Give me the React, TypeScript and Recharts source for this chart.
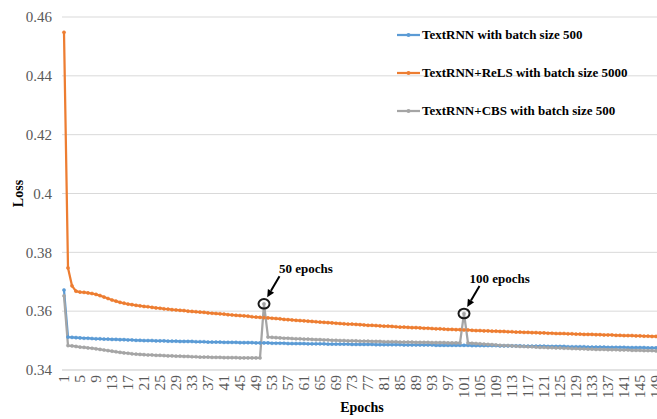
import React from 'react';
import { LineChart, Line, XAxis, YAxis, CartesianGrid, Legend, ReferenceDot, Label } from 'recharts';

const FONT = "'Liberation Serif', 'Times New Roman', serif";

const epochs: number[] = Array.from({ length: 150 }, (_, i) => i + 1);

const textRnn500 = [
  0.3672, 0.3512, 0.3511, 0.3510, 0.3509, 0.3508, 0.3508, 0.3507, 0.3506, 0.3506,
  0.3505, 0.3505, 0.3504, 0.3504, 0.3503, 0.3503, 0.3502, 0.3502, 0.3501, 0.3501,
  0.3500, 0.3500, 0.3500, 0.3499, 0.3499, 0.3499, 0.3498, 0.3498, 0.3498, 0.3497,
  0.3497, 0.3497, 0.3497, 0.3496, 0.3496, 0.3496, 0.3495, 0.3495, 0.3495, 0.3495,
  0.3494, 0.3494, 0.3494, 0.3494, 0.3493, 0.3493, 0.3493, 0.3493, 0.3492, 0.3492,
  0.3492, 0.3492, 0.3491, 0.3491, 0.3491, 0.3491, 0.3490, 0.3490, 0.3490, 0.3490,
  0.3490, 0.3489, 0.3489, 0.3489, 0.3489, 0.3489, 0.3488, 0.3488, 0.3488, 0.3488,
  0.3488, 0.3488, 0.3487, 0.3487, 0.3487, 0.3487, 0.3487, 0.3487, 0.3486, 0.3486,
  0.3486, 0.3486, 0.3486, 0.3486, 0.3486, 0.3485, 0.3485, 0.3485, 0.3485, 0.3485,
  0.3485, 0.3485, 0.3485, 0.3484, 0.3484, 0.3484, 0.3484, 0.3484, 0.3484, 0.3484,
  0.3484, 0.3484, 0.3483, 0.3483, 0.3483, 0.3483, 0.3483, 0.3483, 0.3483, 0.3482,
  0.3482, 0.3482, 0.3482, 0.3482, 0.3482, 0.3481, 0.3481, 0.3481, 0.3481, 0.3481,
  0.3481, 0.3480, 0.3480, 0.3480, 0.3480, 0.3480, 0.3479, 0.3479, 0.3479, 0.3479,
  0.3479, 0.3478, 0.3478, 0.3478, 0.3478, 0.3478, 0.3477, 0.3477, 0.3477, 0.3477,
  0.3477, 0.3476, 0.3476, 0.3476, 0.3476, 0.3476, 0.3475, 0.3475, 0.3475, 0.3475,
];

const relS5000 = [
  0.4548, 0.3747, 0.3686, 0.3668, 0.3665, 0.3664, 0.3662, 0.3660, 0.3657, 0.3653,
  0.3648, 0.3643, 0.3638, 0.3634, 0.3630, 0.3627, 0.3624, 0.3622, 0.3620, 0.3618,
  0.3616, 0.3615, 0.3613, 0.3611, 0.3610, 0.3608, 0.3607, 0.3605, 0.3604, 0.3603,
  0.3602, 0.3600, 0.3599, 0.3598, 0.3597, 0.3596, 0.3594, 0.3593, 0.3592, 0.3591,
  0.3590, 0.3588, 0.3587, 0.3586, 0.3585, 0.3584, 0.3583, 0.3581, 0.3580, 0.3579,
  0.3578, 0.3577, 0.3576, 0.3575, 0.3574, 0.3572, 0.3571, 0.3570, 0.3569, 0.3568,
  0.3567, 0.3566, 0.3565, 0.3564, 0.3563, 0.3562, 0.3561, 0.3560, 0.3559, 0.3558,
  0.3557, 0.3556, 0.3556, 0.3555, 0.3554, 0.3553, 0.3552, 0.3552, 0.3551, 0.3550,
  0.3549, 0.3549, 0.3548, 0.3547, 0.3546, 0.3546, 0.3545, 0.3544, 0.3544, 0.3543,
  0.3542, 0.3542, 0.3541, 0.3540, 0.3540, 0.3539, 0.3538, 0.3538, 0.3537, 0.3537,
  0.3536, 0.3536, 0.3535, 0.3534, 0.3534, 0.3533, 0.3533, 0.3532, 0.3532, 0.3531,
  0.3531, 0.3530, 0.3530, 0.3529, 0.3529, 0.3528, 0.3528, 0.3527, 0.3527, 0.3526,
  0.3526, 0.3525, 0.3525, 0.3524, 0.3524, 0.3524, 0.3523, 0.3523, 0.3522, 0.3522,
  0.3521, 0.3521, 0.3521, 0.3520, 0.3520, 0.3519, 0.3519, 0.3519, 0.3518, 0.3518,
  0.3517, 0.3517, 0.3517, 0.3516, 0.3516, 0.3515, 0.3515, 0.3514, 0.3514, 0.3513,
];

const cbs500 = [
  0.3652, 0.3483, 0.3482, 0.3480, 0.3478, 0.3477, 0.3475, 0.3474, 0.3472, 0.3470,
  0.3468, 0.3466, 0.3464, 0.3462, 0.3460, 0.3458, 0.3457, 0.3455, 0.3454, 0.3453,
  0.3452, 0.3451, 0.3451, 0.3450, 0.3450, 0.3449, 0.3448, 0.3448, 0.3447, 0.3447,
  0.3446, 0.3446, 0.3445, 0.3445, 0.3444, 0.3444, 0.3444, 0.3443, 0.3443, 0.3443,
  0.3442, 0.3442, 0.3442, 0.3442, 0.3441, 0.3441, 0.3441, 0.3441, 0.3441, 0.3441,
  0.3625, 0.3512, 0.3511, 0.3510, 0.3509, 0.3508, 0.3508, 0.3507, 0.3506, 0.3506,
  0.3505, 0.3505, 0.3504, 0.3503, 0.3503, 0.3502, 0.3502, 0.3501, 0.3501, 0.3500,
  0.3500, 0.3499, 0.3499, 0.3499, 0.3498, 0.3498, 0.3498, 0.3497, 0.3497, 0.3497,
  0.3496, 0.3496, 0.3496, 0.3496, 0.3495, 0.3495, 0.3495, 0.3495, 0.3494, 0.3494,
  0.3494, 0.3494, 0.3493, 0.3493, 0.3493, 0.3493, 0.3492, 0.3492, 0.3492, 0.3492,
  0.3592, 0.3492, 0.3491, 0.3490, 0.3489, 0.3488, 0.3487, 0.3486, 0.3485, 0.3484,
  0.3483, 0.3483, 0.3482, 0.3481, 0.3480, 0.3480, 0.3479, 0.3479, 0.3478, 0.3477,
  0.3477, 0.3476, 0.3476, 0.3475, 0.3475, 0.3474, 0.3474, 0.3473, 0.3473, 0.3472,
  0.3472, 0.3471, 0.3471, 0.3470, 0.3470, 0.3470, 0.3469, 0.3469, 0.3469, 0.3468,
  0.3468, 0.3468, 0.3467, 0.3467, 0.3467, 0.3466, 0.3466, 0.3466, 0.3465, 0.3465,
];

const yTicks = [0.34, 0.36, 0.38, 0.4, 0.42, 0.44, 0.46];

const seriesKeys = ['textRnn500', 'relS5000', 'cbs500'];
const seriesNames = [
  'TextRNN with batch size 500',
  'TextRNN+ReLS with batch size 5000',
  'TextRNN+CBS with batch size 500',
];
const seriesColors = ['#5B9BD5', '#ED7D31', '#A5A5A5'];

const annotationEpochs = [51, 101];
const annotationValues = [0.3625, 0.3592];
const annotationTexts = ['50 epochs', '100 epochs'];
const annotationTextDx = [15, 5.5];

const data = epochs.map((e, i) => ({
  epoch: e,
  textRnn500: textRnn500[i],
  relS5000: relS5000[i],
  cbs500: cbs500[i],
}));

const XTick = (props: any) => {
  const { x, y, payload } = props;
  return (
    <text
      transform={`translate(${x},${y}) rotate(-90)`}
      textAnchor="end"
      dy="0.35em"
      fill="#595959"
      fontSize={15.5}
      fontFamily={FONT}
    >
      {payload.value}
    </text>
  );
};

const makeAnnotation = (text: string, tdx: number) => (props: any) => {
  const { cx, cy } = props;
  if (cx == null || cy == null) return <g />;
  const ax1 = cx + 15.5;
  const ay1 = cy - 27.5;
  const ax2 = cx + 3.2;
  const ay2 = cy - 6.5;
  const ang = Math.atan2(ay2 - ay1, ax2 - ax1);
  const L = 7.5;
  const W = 3.6;
  const bx = ax2 - L * Math.cos(ang);
  const by = ay2 - L * Math.sin(ang);
  const p1x = bx + W * Math.sin(ang);
  const p1y = by - W * Math.cos(ang);
  const p2x = bx - W * Math.sin(ang);
  const p2y = by + W * Math.cos(ang);
  return (
    <g>
      <ellipse cx={cx} cy={cy} rx={5.5} ry={4.8} fill="none" stroke="#1a1a1a" strokeWidth={2} />
      <line x1={ax1} y1={ay1} x2={bx} y2={by} stroke="#000" strokeWidth={2} />
      <polygon points={`${ax2},${ay2} ${p1x},${p1y} ${p2x},${p2y}`} fill="#000" />
      <text x={cx + tdx} y={cy - 31} fontFamily={FONT} fontWeight="bold" fontSize={13} fill="#000">
        {text}
      </text>
    </g>
  );
};

const LegendContent = () => (
  <div style={{ display: 'flex', flexDirection: 'column' }}>
    {seriesNames.map((n, i) => (
      <div key={n} style={{ height: 38, display: 'flex', alignItems: 'center' }}>
        <svg width={25} height={10} style={{ display: 'block' }}>
          <line x1={0} y1={5} x2={23} y2={5} stroke={seriesColors[i]} strokeWidth={2.25} />
          <circle cx={11.5} cy={5} r={2} fill={seriesColors[i]} />
        </svg>
        <span
          style={{
            fontFamily: FONT,
            fontWeight: 'bold',
            fontSize: 13,
            color: '#000',
            whiteSpace: 'nowrap',
            lineHeight: '14px',
          }}
        >
          {n}
        </span>
      </div>
    ))}
  </div>
);

export default function App() {
  return (
    <div
      style={{
        position: 'fixed',
        left: 0,
        top: 0,
        width: 657,
        height: 419,
        overflow: 'hidden',
        background: '#fff',
      }}
    >
      <LineChart
        width={670}
        height={419}
        data={data}
        margin={{ top: 17, right: 8, bottom: 0, left: 0 }}
      >
        <CartesianGrid vertical={false} stroke="#d9d9d9" strokeWidth={1} />
        <XAxis
          dataKey="epoch"
          interval={3}
          padding={{ left: 2, right: 2 }}
          height={49}
          tickLine={false}
          tickSize={0}
          tickMargin={5}
          axisLine={{ stroke: '#d9d9d9' }}
          tick={<XTick />}
        >
          <Label
            value="Epochs"
            position="insideBottom"
            offset={7}
            style={{ fontFamily: FONT, fontWeight: 'bold', fontSize: 14, fill: '#000' }}
          />
        </XAxis>
        <YAxis
          domain={[0.34, 0.46]}
          ticks={yTicks}
          width={62}
          axisLine={false}
          tickLine={false}
          tickSize={0}
          tickMargin={10}
          tickFormatter={(v: number) => String(Number(v.toFixed(2)))}
          tick={{ fill: '#595959', fontSize: 15, fontFamily: FONT }}
        >
          <Label
            content={(p: any) => {
              const vb = p.viewBox || {};
              const cx = (vb.x || 0) + 18;
              const cy = (vb.y || 0) + (vb.height || 0) / 2;
              return (
                <text
                  x={cx}
                  y={cy}
                  transform={`rotate(-90, ${cx}, ${cy})`}
                  textAnchor="middle"
                  dominantBaseline="central"
                  fontFamily={FONT}
                  fontWeight="bold"
                  fontSize={14}
                  fill="#000"
                >
                  Loss
                </text>
              );
            }}
          />
        </YAxis>
        <Legend
          layout="vertical"
          align="center"
          verticalAlign="middle"
          content={<LegendContent />}
          wrapperStyle={{ position: 'absolute', left: 397, top: 16, width: 262, height: 114 }}
        />
        {seriesKeys.map((k, i) => (
          <Line
            key={k}
            type="linear"
            dataKey={k}
            name={seriesNames[i]}
            stroke={seriesColors[i]}
            strokeWidth={2.25}
            dot={{ r: 1.6, fill: seriesColors[i], stroke: seriesColors[i], strokeWidth: 0.5 }}
            activeDot={false}
            isAnimationActive={false}
          />
        ))}
        {annotationEpochs.map((e, i) => (
          <ReferenceDot
            key={e}
            x={e}
            y={annotationValues[i]}
            r={5}
            shape={makeAnnotation(annotationTexts[i], annotationTextDx[i])}
          />
        ))}
      </LineChart>
    </div>
  );
}
